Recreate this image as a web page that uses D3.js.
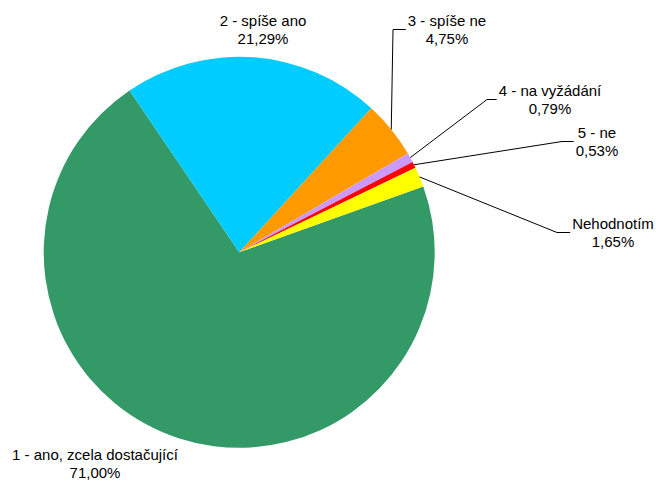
<!DOCTYPE html>
<html>
<head>
<meta charset="utf-8">
<script src="https://cdn.jsdelivr.net/npm/d3@7"></script>
<style>
  html, body { margin: 0; padding: 0; background: #fff; }
  svg { display: block; }
  text { font-family: "Liberation Sans", Arial, sans-serif; font-size: 15px; fill: #000; }
</style>
</head>
<body>
<svg id="chart" width="656" height="481"></svg>
<script>
// ---- data ----
const categories = ["1 - ano, zcela dostačující", "2 - spíše ano", "3 - spíše ne", "4 - na vyžádání", "5 - ne", "Nehodnotím"];
const values = [71.00, 21.29, 4.75, 0.79, 0.53, 1.65];
const colors = ["#339966", "#00CCFF", "#FF9900", "#CC99FF", "#FF0000", "#FFFF00"];

// ---- layout ----
const W = 656, H = 481;
const cx = 239.2, cy = 252.3, radius = 195.5;
const startDeg = 70.3;
// label placement: text center x, first-line baseline y, leader elbow x (null = no leader)
const labelLayout = [
  { tx: 95,  by: 460, elbowX: null },
  { tx: 263, by: 26,  elbowX: null },
  { tx: 447, by: 26,  elbowX: 393 },
  { tx: 550, by: 96,  elbowX: 487 },
  { tx: 597, by: 138, elbowX: 562 },
  { tx: 613, by: 229, elbowX: 557 }
];
const lineGap = 18;

const svg = d3.select("#chart");
const g = svg.append("g").attr("transform", `translate(${cx},${cy})`);

const s = startDeg * Math.PI / 180;
const pie = d3.pie().sort(null).value(d => d).startAngle(s).endAngle(s + 2 * Math.PI);
const arcs = pie(values);
const arc = d3.arc().innerRadius(0).outerRadius(radius);

g.selectAll("path.slice")
  .data(arcs)
  .join("path")
  .attr("class", "slice")
  .attr("d", arc)
  .attr("fill", (d, i) => colors[i]);

const fmt = v => v.toFixed(2).replace(".", ",") + "%";

// labels
arcs.forEach((a, i) => {
  const L = labelLayout[i];
  const t1 = svg.append("text").attr("x", L.tx).attr("y", L.by).attr("text-anchor", "middle").text(categories[i]);
  const t2 = svg.append("text").attr("x", L.tx).attr("y", L.by + lineGap).attr("text-anchor", "middle").text(fmt(values[i]));
  if (L.elbowX !== null) {
    const w = Math.max(t1.node().getComputedTextLength(), t2.node().getComputedTextLength());
    const left = L.tx - w / 2 - 2;
    const mid = (a.startAngle + a.endAngle) / 2;
    const sx = cx + radius * Math.sin(mid);
    const sy = cy - radius * Math.cos(mid);
    const ey = L.by + 3.5;
    svg.append("polyline")
      .attr("points", `${sx},${sy} ${L.elbowX},${ey} ${left},${ey}`)
      .attr("fill", "none")
      .attr("stroke", "#000")
      .attr("stroke-width", 1);
  }
});
</script>
</body>
</html>
